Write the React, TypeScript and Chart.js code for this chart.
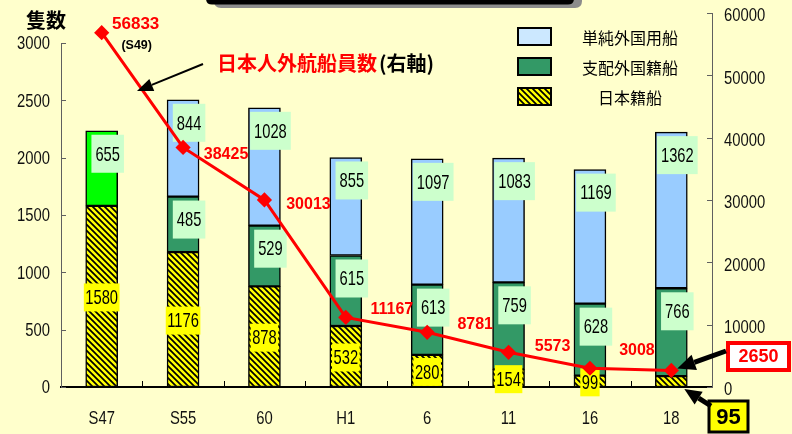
import React, { useEffect, useRef } from 'react';
import { Chart, registerables } from 'chart.js';

Chart.register(...registerables);

// ---------- data ----------
const categories = ['S47', 'S55', '60', 'H1', '6', '11', '16', '18'];
const japanShips = [1580, 1176, 878, 532, 280, 154, 99, 95];
const controlledForeign = [655, 485, 529, 615, 613, 759, 628, 766];
const charteredForeign: (number | null)[] = [null, 844, 1028, 855, 1097, 1083, 1169, 1362];
const seafarers = [56833, 38425, 30013, 11167, 8781, 5573, 3008, 2650];
const leftTicks = [0, 500, 1000, 1500, 2000, 2500, 3000];
const rightTicks = [0, 10000, 20000, 30000, 40000, 50000, 60000];
const seriesNames = ['日本籍船', '支配外国籍船', '単純外国用船'];
const leftAxisTitle = '隻数';
const lineTitle = '日本人外航船員数';
const lineTitleSuffix = '(右軸)';
const firstPointNote = '(S49)';

// ---------- styles / layout ----------
const SANS = '"Liberation Sans", Arial, "DejaVu Sans", sans-serif';
const CJK = '"Noto Sans CJK JP", "Noto Sans CJK SC", sans-serif';
const BG = '#ffffcc';
const LIGHT_BLUE = '#99ccff';
const DARK_GREEN = '#339966';
const BRIGHT_GREEN = '#00ff00';
const lineLabelOffsets: ([number, number] | null)[] = [
  null, [43, 7], [44, 5], [46, -8], [48, -8], [44, -6], [47, -18], null,
];

let hatch: CanvasPattern | string = '#ffff00';

function makeHatch(): CanvasPattern | string {
  const c = document.createElement('canvas');
  c.width = 6;
  c.height = 6;
  const g = c.getContext('2d');
  if (!g) return '#ffff00';
  g.fillStyle = '#ffff00';
  g.fillRect(0, 0, 6, 6);
  g.strokeStyle = '#000';
  g.lineWidth = 1.7;
  g.beginPath();
  g.moveTo(-1, -1); g.lineTo(7, 7);
  g.moveTo(-1, 5); g.lineTo(1, 7);
  g.moveTo(5, -1); g.lineTo(7, 1);
  g.stroke();
  return g.createPattern(c, 'repeat') || '#ffff00';
}

function roundRectPath(ctx: CanvasRenderingContext2D, x: number, y: number, w: number, h: number, r: number) {
  ctx.beginPath();
  ctx.moveTo(x + r, y);
  ctx.lineTo(x + w - r, y);
  ctx.quadraticCurveTo(x + w, y, x + w, y + r);
  ctx.lineTo(x + w, y + h - r);
  ctx.quadraticCurveTo(x + w, y + h, x + w - r, y + h);
  ctx.lineTo(x + r, y + h);
  ctx.quadraticCurveTo(x, y + h, x, y + h - r);
  ctx.lineTo(x, y + r);
  ctx.quadraticCurveTo(x, y, x + r, y);
  ctx.closePath();
}

function arrow(ctx: CanvasRenderingContext2D, x1: number, y1: number, x2: number, y2: number, lw: number, hl: number, hw: number) {
  const ang = Math.atan2(y2 - y1, x2 - x1);
  const bx = x2 - hl * Math.cos(ang);
  const by = y2 - hl * Math.sin(ang);
  ctx.save();
  ctx.strokeStyle = '#000';
  ctx.fillStyle = '#000';
  ctx.lineWidth = lw;
  ctx.beginPath();
  ctx.moveTo(x1, y1);
  ctx.lineTo(bx, by);
  ctx.stroke();
  ctx.beginPath();
  ctx.moveTo(x2, y2);
  ctx.lineTo(bx + (hw / 2) * Math.sin(ang), by - (hw / 2) * Math.cos(ang));
  ctx.lineTo(bx - (hw / 2) * Math.sin(ang), by + (hw / 2) * Math.cos(ang));
  ctx.closePath();
  ctx.fill();
  ctx.restore();
}

// narrow text: draws with a horizontal squeeze
function narrowText(ctx: CanvasRenderingContext2D, text: string, x: number, y: number, size: number, sx: number, align: CanvasTextAlign) {
  ctx.save();
  ctx.font = `${size}px ${SANS}`;
  ctx.textAlign = align;
  ctx.textBaseline = 'middle';
  ctx.translate(x, y);
  ctx.scale(sx, 1);
  ctx.fillText(text, 0, 0);
  ctx.restore();
}
function narrowWidth(ctx: CanvasRenderingContext2D, text: string, size: number, sx: number) {
  ctx.save();
  ctx.font = `${size}px ${SANS}`;
  const w = ctx.measureText(text).width * sx;
  ctx.restore();
  return w;
}

const LBL_SIZE = 21;
const LBL_SX = 0.7;
const TICK_SIZE = 19;
const TICK_SX = 0.78;

function drawBarLabels(chart: any) {
  const ctx: CanvasRenderingContext2D = chart.ctx;
  const last = categories.length - 1;
  ctx.save();
  const m0 = chart.getDatasetMeta(0);
  m0.data.forEach((el: any, i: number) => {
    if (i === last) return; // shown as callout
    const { x, y, base } = el.getProps(['x', 'y', 'base'], true);
    const cy = (y + base) / 2 + 1;
    const t = String(japanShips[i]);
    const w = narrowWidth(ctx, t, LBL_SIZE, LBL_SX) + 3;
    ctx.fillStyle = '#ffff00';
    ctx.fillRect(x - w / 2, cy - 14, w, 28);
    ctx.fillStyle = '#000';
    narrowText(ctx, t, x, cy + 1, LBL_SIZE, LBL_SX, 'center');
  });
  [1, 2].forEach((di) => {
    const meta = chart.getDatasetMeta(di);
    const vals = chart.data.datasets[di].data;
    meta.data.forEach((el: any, i: number) => {
      const v = vals[i];
      if (v == null) return;
      const { x, y } = el.getProps(['x', 'y'], true);
      const cx = x + 6;
      const cy = y + 23;
      const t = String(v);
      const w = narrowWidth(ctx, t, LBL_SIZE, LBL_SX) + 8;
      ctx.fillStyle = '#ccffcc';
      ctx.fillRect(cx - w / 2, cy - 19, w, 38);
      ctx.fillStyle = '#000';
      narrowText(ctx, t, cx, cy + 1, LBL_SIZE, LBL_SX, 'center');
    });
  });
  ctx.restore();
}

const decorPlugin = {
  id: 'decor',
  beforeDraw(chart: any) {
    const ctx: CanvasRenderingContext2D = chart.ctx;
    ctx.save();
    ctx.fillStyle = BG;
    ctx.fillRect(0, 0, chart.width, chart.height);
    ctx.fillStyle = '#8c8c8c';
    roundRectPath(ctx, 214, -30, 368, 38, 7);
    ctx.fill();
    ctx.fillStyle = '#000';
    roundRectPath(ctx, 206, -30, 368, 34.5, 6);
    ctx.fill();
    ctx.restore();
  },
  beforeDatasetDraw(chart: any, args: any) {
    if (args.index === 3) drawBarLabels(chart);
  },
  afterDatasetsDraw(chart: any) {
    const ctx: CanvasRenderingContext2D = chart.ctx;
    const area = chart.chartArea;
    const ys = chart.scales.y;
    const y1 = chart.scales.y1;
    const xs = chart.scales.x;
    ctx.save();
    // left axis line + inward ticks
    ctx.strokeStyle = '#606060';
    ctx.lineWidth = 1;
    ctx.beginPath();
    ctx.moveTo(area.left + 0.5, ys.getPixelForValue(leftTicks[leftTicks.length - 1]));
    ctx.lineTo(area.left + 0.5, area.bottom);
    ys.ticks.forEach((t: any) => {
      const p = Math.round(ys.getPixelForValue(t.value)) + 0.5;
      ctx.moveTo(area.left, p);
      ctx.lineTo(area.left + 5, p);
    });
    y1.ticks.forEach((t: any) => {
      const p = Math.round(y1.getPixelForValue(t.value)) + 0.5;
      ctx.moveTo(area.right, p);
      ctx.lineTo(area.right - 5, p);
    });
    ctx.stroke();
    // x ticks between categories (upward)
    ctx.strokeStyle = '#000';
    ctx.beginPath();
    for (let i = 1; i < categories.length; i++) {
      const p = Math.round((xs.getPixelForValue(i - 1) + xs.getPixelForValue(i)) / 2) + 0.5;
      ctx.moveTo(p, area.bottom);
      ctx.lineTo(p, area.bottom - 6);
    }
    ctx.stroke();

    // tick labels (narrow face), positioned by the chart scales
    ctx.fillStyle = '#111';
    ys.ticks.forEach((t: any) => {
      narrowText(ctx, String(t.value), area.left - 11, ys.getPixelForValue(t.value) + 1, TICK_SIZE, TICK_SX, 'right');
    });
    y1.ticks.forEach((t: any) => {
      narrowText(ctx, String(t.value), area.right + 12, y1.getPixelForValue(t.value) + 3, TICK_SIZE, TICK_SX, 'left');
    });
    categories.forEach((c, i) => {
      narrowText(ctx, c, xs.getPixelForValue(i), area.bottom + 32, TICK_SIZE, TICK_SX, 'center');
    });

    // line point labels
    const lm = chart.getDatasetMeta(3);
    ctx.fillStyle = '#ff0000';
    ctx.textAlign = 'center';
    ctx.textBaseline = 'middle';
    ctx.font = `bold 16px ${SANS}`;
    lm.data.forEach((el: any, i: number) => {
      const off = lineLabelOffsets[i];
      if (!off) return;
      ctx.fillText(String(seafarers[i]), el.x + off[0], el.y + off[1]);
    });
    const p0 = lm.data[0];
    ctx.font = `bold 17px ${SANS}`;
    ctx.fillText(String(seafarers[0]), p0.x + 34, p0.y - 8);
    ctx.fillStyle = '#000';
    ctx.font = `bold 12.5px ${SANS}`;
    ctx.fillText(firstPointNote, p0.x + 35, p0.y + 13);

    // left axis title
    ctx.textAlign = 'left';
    ctx.fillStyle = '#000';
    ctx.font = `bold 20px ${CJK}`;
    ctx.fillText(leftAxisTitle, 26, 20);

    // line title
    ctx.font = `bold 20px ${CJK}`;
    ctx.fillStyle = '#ff0000';
    ctx.fillText(lineTitle, 217, 63);
    const tw = ctx.measureText(lineTitle).width;
    ctx.fillStyle = '#000';
    ctx.fillText(lineTitleSuffix, 217 + tw + 2, 63);
    arrow(ctx, 203, 64, 137, 91, 2, 16, 13);

    // legend
    const legendFills = ['#cce8ff', DARK_GREEN, hatch];
    const order = [2, 1, 0];
    order.forEach((si, k) => {
      const by = 28 + k * 30;
      ctx.fillStyle = legendFills[k] as any;
      ctx.fillRect(518, by, 33, 17);
      ctx.strokeStyle = '#000';
      ctx.lineWidth = 2;
      ctx.strokeRect(518, by, 33, 17);
      ctx.fillStyle = '#000';
      ctx.font = `16px ${CJK}`;
      ctx.textAlign = 'center';
      ctx.fillText(seriesNames[si], 630, by + 10);
    });

    // callouts for the last category
    const last = categories.length - 1;
    const lp = lm.data[last];
    ctx.fillStyle = '#fff';
    ctx.fillRect(728, 343, 61, 27);
    ctx.strokeStyle = '#ff0000';
    ctx.lineWidth = 4;
    ctx.strokeRect(728, 343, 61, 27);
    ctx.fillStyle = '#ff0000';
    ctx.font = `bold 18px ${SANS}`;
    ctx.textAlign = 'center';
    ctx.fillText(String(seafarers[last]), 758.5, 357.5);
    arrow(ctx, 726, 351, lp.x + 6, lp.y - 2, 5, 18, 16);

    const bm = chart.getDatasetMeta(0).data[last];
    const bp = bm.getProps(['x', 'base', 'width'], true);
    ctx.fillStyle = '#ffff00';
    ctx.fillRect(709, 401, 39, 31);
    ctx.strokeStyle = '#000';
    ctx.lineWidth = 3;
    ctx.strokeRect(709, 401, 39, 31);
    ctx.fillStyle = '#000';
    ctx.font = `bold 22px ${SANS}`;
    ctx.fillText(String(japanShips[last]), 728.5, 417.5);
    arrow(ctx, 711, 406, bp.x + bp.width / 2 - 3, bp.base + 2, 5, 17, 15);

    ctx.restore();
  },
};

export default function App() {
  const ref = useRef<HTMLCanvasElement>(null);
  useEffect(() => {
    if (!ref.current) return;
    hatch = makeHatch();
    const barCommon = {
      type: 'bar',
      borderColor: '#000',
      borderWidth: 1.5,
      borderSkipped: false,
      barThickness: 32,
      yAxisID: 'y',
      order: 1,
    };
    const chart = new Chart(ref.current, {
      data: {
        labels: categories,
        datasets: [
          { ...barCommon, label: seriesNames[0], data: japanShips, backgroundColor: hatch as any },
          {
            ...barCommon,
            label: seriesNames[1],
            data: controlledForeign,
            backgroundColor: controlledForeign.map((_, i) => (i === 0 ? BRIGHT_GREEN : DARK_GREEN)),
          },
          { ...barCommon, label: seriesNames[2], data: charteredForeign, backgroundColor: LIGHT_BLUE },
          {
            type: 'line',
            label: lineTitle,
            data: seafarers,
            yAxisID: 'y1',
            borderColor: '#ff0000',
            borderWidth: 3,
            pointStyle: 'rectRot',
            pointRadius: 5.5,
            pointBackgroundColor: '#ff0000',
            pointBorderColor: '#ff0000',
            tension: 0,
            order: 0,
          },
        ] as any,
      },
      options: {
        responsive: false,
        animation: false,
        layout: { padding: { top: 13, left: 0, right: 0, bottom: 0 } },
        plugins: { legend: { display: false }, tooltip: { enabled: false } },
        scales: {
          x: {
            stacked: true,
            offset: true,
            grid: { display: false, drawTicks: false },
            border: { display: true, color: '#000', width: 2 },
            ticks: { display: false },
            afterFit: (s: any) => { s.height = 47; },
          },
          y: {
            stacked: true,
            position: 'left',
            min: 0,
            max: 3262,
            afterBuildTicks: (a: any) => { a.ticks = leftTicks.map((v) => ({ value: v })); },
            ticks: { display: false },
            grid: { display: false, drawTicks: false },
            border: { display: false },
            afterFit: (s: any) => { s.width = 61; },
          },
          y1: {
            position: 'right',
            min: 0,
            max: 60000,
            afterBuildTicks: (a: any) => { a.ticks = rightTicks.map((v) => ({ value: v })); },
            ticks: { display: false },
            grid: { display: false, drawTicks: false },
            border: { display: true, color: '#606060', width: 1 },
            afterFit: (s: any) => { s.width = 80; },
          },
        },
      } as any,
      plugins: [decorPlugin],
    });
    return () => chart.destroy();
  }, []);
  return (
    <div style={{ position: 'absolute', left: 0, top: 0, width: 792, height: 434, background: BG }}>
      <canvas ref={ref} width={792} height={434} style={{ display: 'block' }} />
    </div>
  );
}
